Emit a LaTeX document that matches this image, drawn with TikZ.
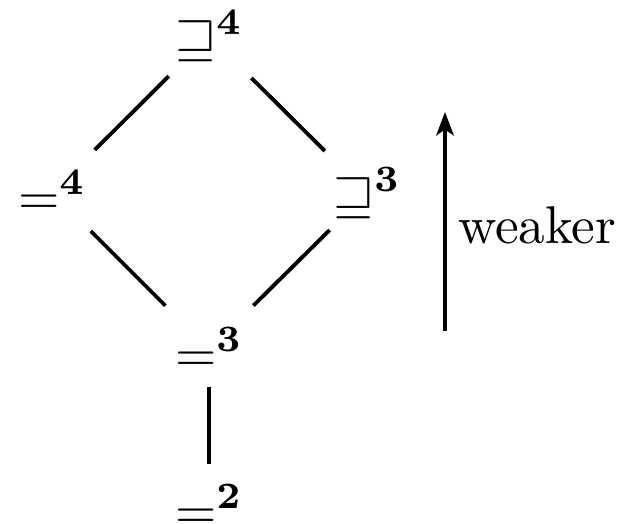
\documentclass[tikz,border=0pt]{standalone}
\usetikzlibrary{arrows.meta}
\begin{document}
\begin{tikzpicture}[x=0.188pt,y=-0.188pt,
  lat/.style={inner sep=0pt,anchor=base west},
  edge/.style={line width=0.72pt}]
\useasboundingbox (0,0) rectangle (626,523);
\node[lat] (t) at (174,54) {$\sqsupseteq^{\mathbf{4}}$};
\node[lat] (l) at (17,214) {$=^{\mathbf{4}}$};
\node[lat] (r) at (332,211) {$\sqsupseteq^{\mathbf{3}}$};
\node[lat] (m) at (174,371) {$=^{\mathbf{3}}$};
\node[lat] (b) at (174,528) {$=^{\mathbf{2}}$};
\draw[edge,shorten <=10.7pt,shorten >=11.3pt] (t.center) -- (l.center);
\draw[edge,shorten <=11.2pt,shorten >=11.2pt] (t.center) -- (r.center);
\draw[edge,shorten <=10.3pt,shorten >=11.6pt] (l.center) -- (m.center);
\draw[edge,shorten <=9.9pt,shorten >=11.7pt] (r.center) -- (m.center);
\draw[edge,shorten <=7pt,shorten >=7.9pt] (m.center) -- (b.center);
\coordinate (a1) at (445,331);
\coordinate (a2) at (445,112);
\draw[edge,-{Stealth[length=4.4pt,width=3.3pt,inset=1.1pt]}] (a1) -- (a2);
\node[lat] (w) at (457,243) {weaker};
\end{tikzpicture}
\end{document}
